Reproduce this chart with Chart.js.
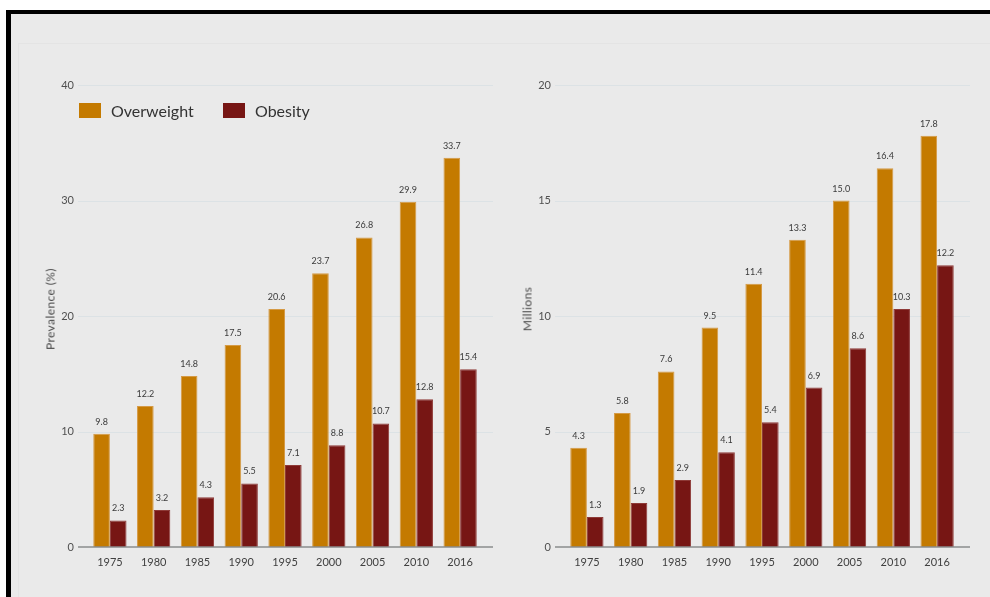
<!DOCTYPE html>
<html>
<head>
<meta charset="utf-8">
<script src="https://cdn.jsdelivr.net/npm/chart.js@4/dist/chart.umd.min.js"></script>
<style>
  html, body { margin: 0; padding: 0; background: #ffffff; }
  #frame {
    position: absolute; left: 6px; top: 10px; width: 984px; height: 587px;
    border-left: 5px solid #000; border-top: 4px solid #000;
    background: #eaeaea; box-sizing: border-box;
  }
  #panel {
    position: absolute; left: 7px; top: 29px; right: 0; bottom: 0;
    border-left: 1px solid #e4e4e4; border-top: 1px solid #e4e4e4;
  }
  canvas { position: absolute; top: 0; }
  #cLeft { left: 0; }
  #cRight { left: 500px; }
  .legend { position: absolute; top: 100px; left: 79px; font-family: Lato, sans-serif; font-size: 16px; color: #333; }
  .legend span.item { position: absolute; top: 0; white-space: nowrap; }
  .legend span.sw { position: absolute; top: 3px; left: 0; width: 22px; height: 15px; }
  .legend span.tx { position: absolute; left: 32px; top: 0; line-height: 21px; }
  .ytitle {
    position: absolute; font-family: Lato, sans-serif; font-size: 12px; color: #4a4a4a;
    white-space: nowrap; letter-spacing: 0.4px; transform: translate(-50%, -50%) rotate(-90deg);
  }
</style>
</head>
<body>
<div id="frame"><div id="panel"></div></div>
<canvas id="cLeft" width="500" height="597"></canvas>
<canvas id="cRight" width="490" height="597"></canvas>
<div class="legend" id="legend"></div>
<div class="ytitle" id="tLeft" style="left:50px; top:309px;"></div>
<div class="ytitle" id="tRight" style="left:527px; top:309px;"></div>
<script>
// Survey years
const years = ['1975', '1980', '1985', '1990', '1995', '2000', '2005', '2010', '2016'];

// Prevalence (%)
const prevOverweight = [9.8, 12.2, 14.8, 17.5, 20.6, 23.7, 26.8, 29.9, 33.7];
const prevObesity    = [2.3, 3.2, 4.3, 5.5, 7.1, 8.8, 10.7, 12.8, 15.4];

// Number of people (millions)
const milOverweight = [4.3, 5.8, 7.6, 9.5, 11.4, 13.3, 15.0, 16.4, 17.8];
const milObesity    = [1.3, 1.9, 2.9, 4.1, 5.4, 6.9, 8.6, 10.3, 12.2];

const seriesNames = ['Overweight', 'Obesity'];
const leftTicks  = [0, 10, 20, 30, 40];
const rightTicks = [0, 5, 10, 15, 20];
const axisTitles = ['Prevalence (%)', 'Millions'];

const COLORS = ['#c47a00', '#771614'];
const EDGES  = ['#d59a45', '#8e3a37'];
const FONT = 'Lato, sans-serif';

// horizontal grid lines and the baseline, running a little past the bars on both sides
const gridPlugin = {
  id: 'extGrid',
  beforeDatasetsDraw(chart) {
    const { ctx, chartArea, scales } = chart;
    const y = scales.y;
    ctx.save();
    ctx.strokeStyle = '#dce2e5';
    ctx.lineWidth = 1.2;
    y.ticks.forEach(t => {
      if (t.value === 0) return;
      const py = Math.round(y.getPixelForValue(t.value)) + 0.5;
      ctx.beginPath();
      ctx.moveTo(chartArea.left - 10, py);
      ctx.lineTo(chartArea.right + 11, py);
      ctx.stroke();
    });
    ctx.restore();
  },
  afterDatasetsDraw(chart) {
    const { ctx, chartArea, scales } = chart;
    const py = scales.y.getPixelForValue(0);
    ctx.save();
    ctx.strokeStyle = '#8a8c8c';
    ctx.lineWidth = 1.5;
    ctx.beginPath();
    ctx.moveTo(chartArea.left - 10, py);
    ctx.lineTo(chartArea.right + 11, py);
    ctx.stroke();
    ctx.restore();
  }
};

// value written above each bar
const valueLabels = {
  id: 'valueLabels',
  afterDatasetsDraw(chart) {
    const { ctx } = chart;
    ctx.save();
    ctx.font = '9px ' + FONT;
    ctx.fillStyle = '#3a3a3a';
    ctx.textAlign = 'center';
    ctx.textBaseline = 'alphabetic';
    chart.data.datasets.forEach((ds, i) => {
      chart.getDatasetMeta(i).data.forEach((bar, j) => {
        ctx.fillText(ds.data[j].toFixed(1), bar.x, bar.y - 9);
      });
    });
    ctx.restore();
  }
};

function makeChart(id, a, b, ticks, yWidth, padRight, tickPad) {
  return new Chart(document.getElementById(id), {
    type: 'bar',
    data: {
      labels: years,
      datasets: [a, b].map((vals, i) => ({
        label: seriesNames[i],
        data: vals,
        backgroundColor: COLORS[i],
        borderColor: EDGES[i],
        borderWidth: 1,
        categoryPercentage: 0.76,
        barPercentage: 1.0
      }))
    },
    options: {
      responsive: false,
      animation: false,
      devicePixelRatio: 1,
      layout: { padding: { left: 0, right: padRight, top: 85, bottom: 0 } },
      plugins: { legend: { display: false }, tooltip: { enabled: false } },
      scales: {
        x: {
          grid: { display: false },
          border: { display: false },
          ticks: { color: '#404040', font: { family: FONT, size: 11 }, padding: 1 },
          afterFit(s) { s.height = 50; }
        },
        y: {
          min: ticks[0],
          max: ticks[ticks.length - 1],
          afterBuildTicks(s) { s.ticks = ticks.map(v => ({ value: v })); },
          grid: { display: false },
          border: { display: false },
          ticks: { color: '#505050', font: { family: FONT, size: 11 }, padding: tickPad },
          afterFit(s) { s.width = yWidth; }
        }
      }
    },
    plugins: [gridPlugin, valueLabels]
  });
}

makeChart('cLeft', prevOverweight, prevObesity, leftTicks, 88, 18, 6);
makeChart('cRight', milOverweight, milObesity, rightTicks, 65, 31, 6);

// legend built from the series names and colours
const legend = document.getElementById('legend');
[0, 144].forEach((x, i) => {
  const item = document.createElement('span');
  item.className = 'item';
  item.style.left = x + 'px';
  item.innerHTML = '<span class="sw" style="background:' + COLORS[i] + '"></span><span class="tx">' + seriesNames[i] + '</span>';
  legend.appendChild(item);
});
document.getElementById('tLeft').textContent = axisTitles[0];
document.getElementById('tRight').textContent = axisTitles[1];
</script>
</body>
</html>
